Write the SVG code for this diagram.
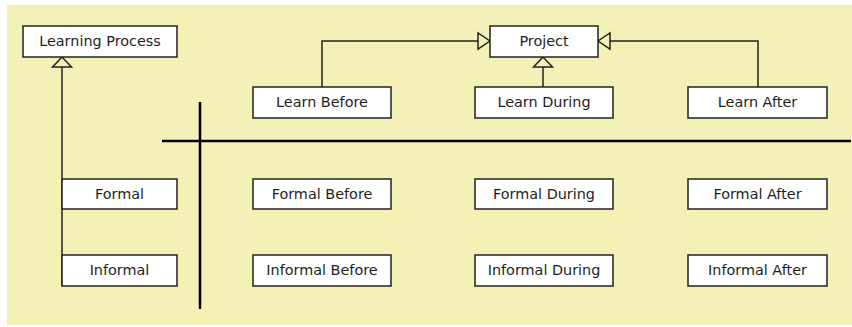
<svg xmlns="http://www.w3.org/2000/svg" width="852" height="327" viewBox="0 0 852 327">
<style>
.n rect{fill:#fff;stroke:#222;stroke-width:1.5}
.n text{font-family:"DejaVu Sans",sans-serif;font-size:14.4px;fill:#1e1e1e;text-anchor:middle}
.c path{fill:none;stroke:#222;stroke-width:1.5}
.c polygon{fill:#f3f1b6;stroke:#222;stroke-width:1.5}
.g{stroke:#000;stroke-width:2.5}
</style>
<rect x="0" y="0" width="852" height="327" fill="#fff"/>
<rect x="7" y="5" width="845" height="320" fill="#f3f1b6"/>
<g id="grid">
<line class="g" x1="162" y1="141" x2="851" y2="141"/>
<line class="g" x1="200" y1="102" x2="200" y2="309"/>
</g>
<g class="c" id="connectors">
<path d="M62 67 V286"/>
<polygon points="62,57 52.5,67 71.5,67"/>
<path d="M322 87 V41 H478"/>
<polygon points="490,41 478,33 478,49"/>
<path d="M758 87 V41 H610"/>
<polygon points="598,41 610,33 610,49"/>
<path d="M543 87 V67"/>
<polygon points="543,57 533.5,67 552.5,67"/>
</g>
<g class="n" id="learning-process"><rect x="23" y="26" width="154" height="31"/><text x="100" y="46">Learning Process</text></g>
<g class="n" id="project"><rect x="490" y="26" width="108" height="31"/><text x="544" y="46">Project</text></g>
<g class="n" id="learn-before"><rect x="253" y="87" width="138" height="31"/><text x="322" y="107">Learn Before</text></g>
<g class="n" id="learn-during"><rect x="475" y="87" width="138" height="31"/><text x="544" y="107">Learn During</text></g>
<g class="n" id="learn-after"><rect x="688" y="87" width="139" height="31"/><text x="757.5" y="107">Learn After</text></g>
<g class="n" id="formal"><rect x="62" y="179" width="115" height="30"/><text x="119.5" y="199">Formal</text></g>
<g class="n" id="informal"><rect x="62" y="255" width="115" height="31"/><text x="119.5" y="275">Informal</text></g>
<g class="n" id="formal-before"><rect x="253" y="179" width="138" height="30"/><text x="322" y="199">Formal Before</text></g>
<g class="n" id="formal-during"><rect x="475" y="179" width="138" height="30"/><text x="544" y="199">Formal During</text></g>
<g class="n" id="formal-after"><rect x="688" y="179" width="139" height="30"/><text x="757.5" y="199">Formal After</text></g>
<g class="n" id="informal-before"><rect x="253" y="255" width="138" height="31"/><text x="322" y="275">Informal Before</text></g>
<g class="n" id="informal-during"><rect x="475" y="255" width="138" height="31"/><text x="544" y="275">Informal During</text></g>
<g class="n" id="informal-after"><rect x="688" y="255" width="139" height="31"/><text x="757.5" y="275">Informal After</text></g>
</svg>
